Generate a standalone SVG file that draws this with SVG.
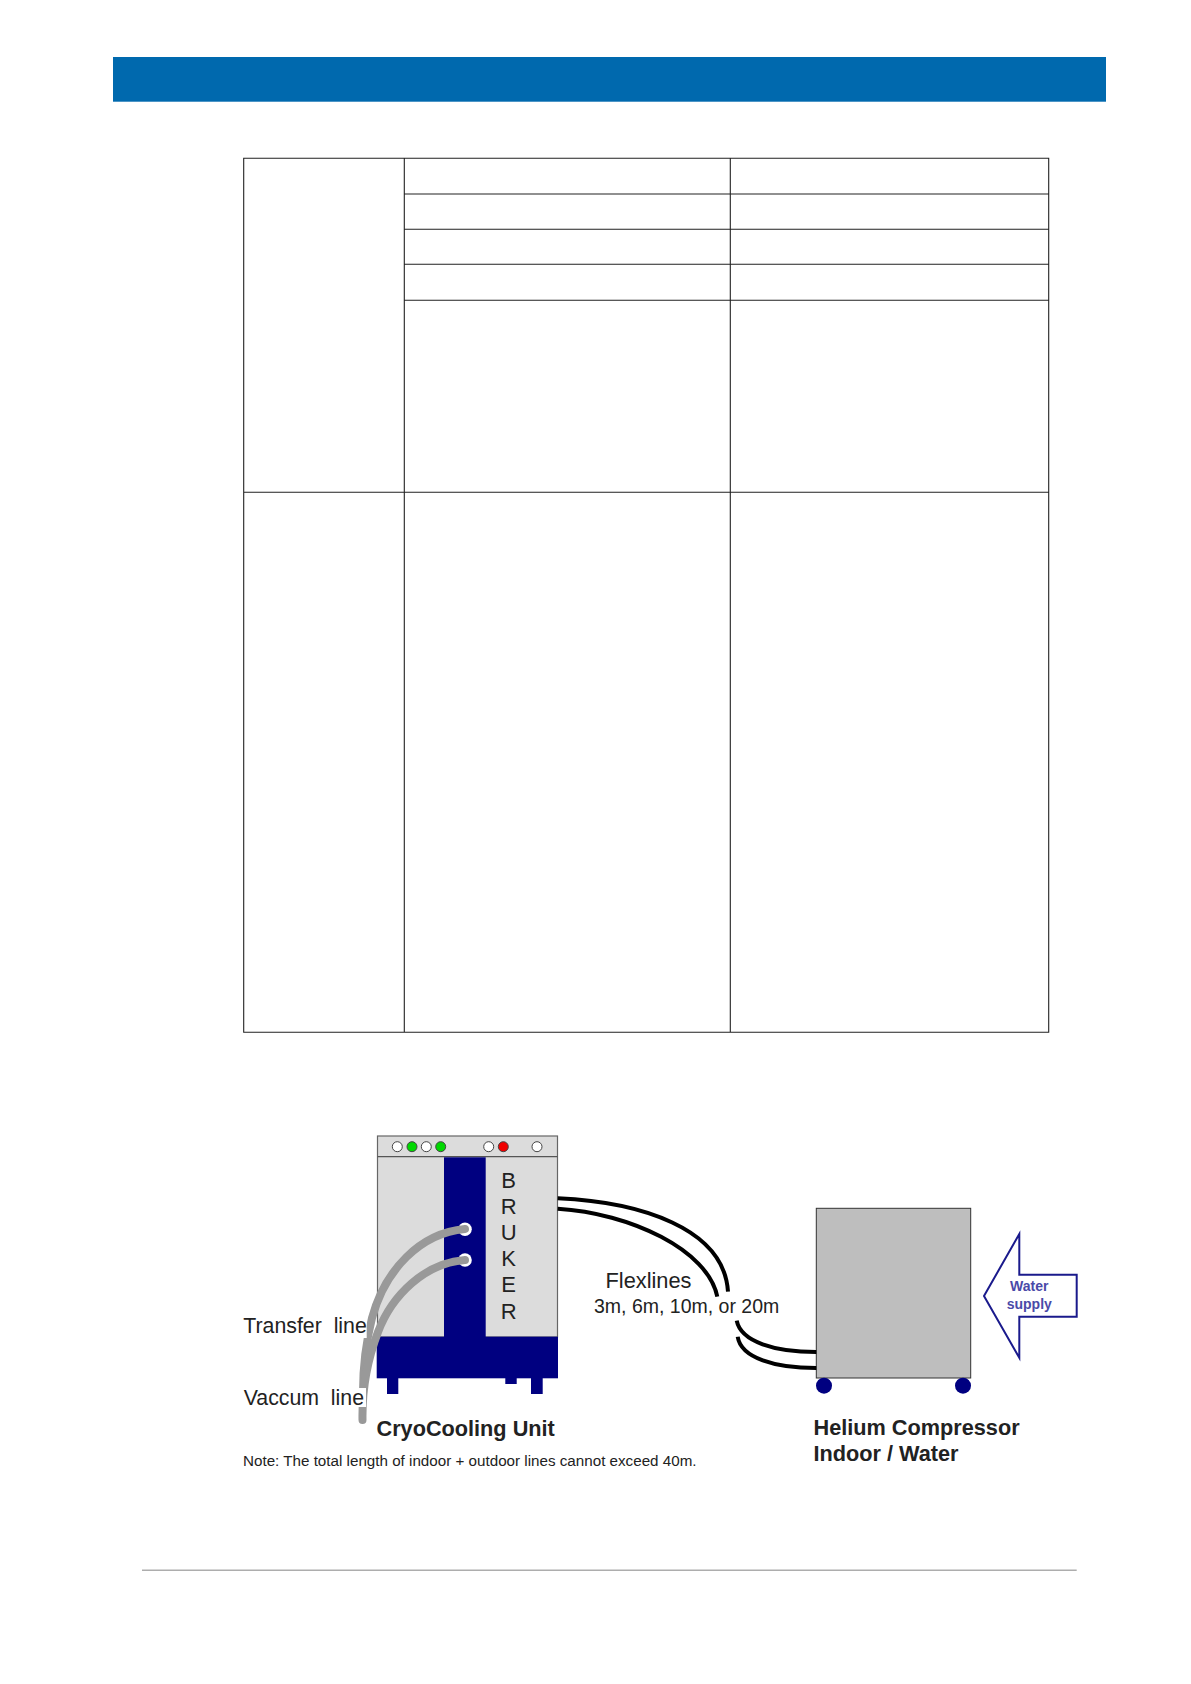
<svg xmlns="http://www.w3.org/2000/svg" width="1191" height="1684" viewBox="0 0 1191 1684">
<style>
text{font-family:"Liberation Sans",Arial,sans-serif;fill:#222}
.tb{fill:none;stroke:#222;stroke-width:1.1}
.led{stroke:#444;stroke-width:1}
.navy{fill:#000080}
.hose{fill:none;stroke:#999;stroke-width:8;stroke-linecap:round}
.flex{fill:none;stroke:#000;stroke-width:4}
.lbl{font-size:21.3px}
.bld{font-size:21.7px;font-weight:bold}
.mask{fill:#fff}
</style>
<rect width="1191" height="1684" fill="#fff"/>
<rect id="header" x="113" y="57" width="993" height="44.7" fill="#0069ae"/>
<g id="table">
<path class="tb" d="M243.7 158.3H1048.7V1032.3H243.7ZM404.3 158.3V1032.3M730.3 158.3V1032.3M404.3 194H1048.7M404.3 229.3H1048.7M404.3 264.3H1048.7M404.3 300.3H1048.7M243.7 492.3H1048.7"/>
</g>
<rect id="footer-rule" x="142" y="1569.6" width="934.7" height="1.2" fill="#999"/>
<g id="cryocooling-unit">
<rect x="377.5" y="1136" width="180" height="201" fill="#dcdcdc" stroke="#666" stroke-width="1.2"/>
<line x1="377.5" y1="1156.7" x2="557.5" y2="1156.7" stroke="#555" stroke-width="1.2"/>
<rect class="navy" x="444" y="1157.3" width="41.7" height="180"/>
<rect class="navy" x="376.7" y="1336.7" width="181.3" height="41.6"/>
<rect class="navy" x="387" y="1378" width="11.3" height="16"/>
<rect class="navy" x="531" y="1378" width="11.7" height="16"/>
<rect class="navy" x="505.3" y="1378" width="11.4" height="6"/>
<circle class="led" cx="397.3" cy="1146.7" r="5" fill="#fff"/>
<circle class="led" cx="412" cy="1146.7" r="5" fill="#00d800"/>
<circle class="led" cx="426.3" cy="1146.7" r="5" fill="#fff"/>
<circle class="led" cx="440.7" cy="1146.7" r="5" fill="#00d800"/>
<circle class="led" cx="488.7" cy="1146.7" r="5" fill="#fff"/>
<circle class="led" cx="503.3" cy="1146.7" r="5" fill="#f00000"/>
<circle class="led" cx="537" cy="1146.7" r="5" fill="#fff"/>
<g font-size="22" text-anchor="middle">
<text x="508.7" y="1187.7">B</text>
<text x="508.7" y="1214.3">R</text>
<text x="508.7" y="1240">U</text>
<text x="508.7" y="1266">K</text>
<text x="508.7" y="1292.3">E</text>
<text x="508.7" y="1319">R</text>
</g>
<circle cx="465" cy="1229.3" r="6.8" fill="#fff"/>
<circle cx="465" cy="1260" r="6.8" fill="#fff"/>
<text class="bld" x="376.5" y="1436">CryoCooling Unit</text>
</g>
<g id="helium-compressor">
<rect x="816.3" y="1208.3" width="154.4" height="169.7" fill="#bebebe" stroke="#333" stroke-width="1"/>
<circle class="navy" cx="824" cy="1385.7" r="8"/>
<circle class="navy" cx="963" cy="1385.7" r="8"/>
<text class="bld" x="813.5" y="1435">Helium Compressor</text>
<text class="bld" x="813.5" y="1461">Indoor / Water</text>
</g>
<g id="water-supply">
<path d="M984 1296L1019.3 1234V1274.7H1076.7V1316.7H1019.3V1357.7Z" fill="#fff" stroke="#1a1a8c" stroke-width="2"/>
<g font-size="14" font-weight="bold" text-anchor="middle">
<text x="1029.3" y="1291.3" style="fill:#4a4aa8">Water</text>
<text x="1029.3" y="1308.5" style="fill:#4a4aa8">supply</text>
</g>
</g>
<g id="connectors">
<path class="hose" d="M465 1229C420 1233 385 1270 372 1318C366 1342 363 1365 363 1392"/>
<path class="hose" d="M465 1260C425 1263 392 1295 378 1332C368 1358 362 1390 362.5 1420"/>
<path class="flex" d="M557.7 1198.3C640 1202 724 1228 728 1291.7"/>
<path class="flex" d="M557.7 1208.7C630 1213 708 1250 717.3 1296.7"/>
<path class="flex" d="M736.7 1320.7C741 1342 775 1352 816.3 1352"/>
<path class="flex" d="M737.7 1336.7C741 1358 775 1368 816.3 1368"/>
</g>
<g id="labels">
<rect class="mask" x="243" y="1314" width="123.7" height="24"/>
<rect class="mask" x="243" y="1388" width="123" height="19"/>
<text class="lbl" x="243.3" y="1333.3" xml:space="preserve">Transfer  line</text>
<text class="lbl" x="243.7" y="1405" xml:space="preserve">Vaccum  line</text>
<text x="605.5" y="1288.3" font-size="21.8">Flexlines</text>
<text x="594" y="1313.3" font-size="19.5">3m, 6m, 10m, or 20m</text>
<text x="243" y="1466" font-size="15.2">Note: The total length of indoor + outdoor lines cannot exceed 40m.</text>
</g>
</svg>
